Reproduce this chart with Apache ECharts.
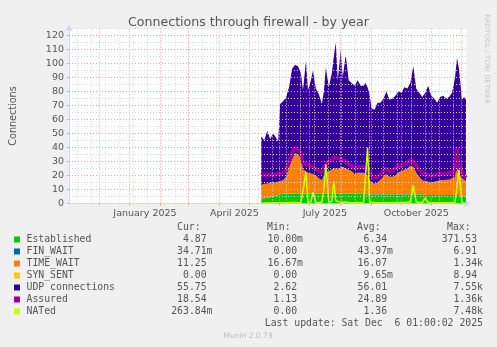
<!DOCTYPE html>
<html>
<head>
<meta charset="utf-8">
<script src="https://cdn.jsdelivr.net/npm/echarts@6/dist/echarts.min.js"></script>
<style>
  html, body { margin: 0; padding: 0; background: #f0f0f0; }
  #chart { width: 497px; height: 347px; }
</style>
</head>
<body>
<div id="chart"></div>
<script>
// Sample dates (UTC days) for the firewall connection counters
const dates = [
  '2025-05-13','2025-05-16','2025-05-19','2025-05-22','2025-05-25','2025-05-28','2025-05-30',
  '2025-06-01','2025-06-04','2025-06-07','2025-06-10','2025-06-13','2025-06-16','2025-06-19',
  '2025-06-22','2025-06-24','2025-06-27','2025-06-29','2025-07-02','2025-07-04','2025-07-07',
  '2025-07-10','2025-07-13','2025-07-15','2025-07-17','2025-07-20','2025-07-23','2025-07-25',
  '2025-07-27','2025-07-29','2025-08-01','2025-08-03','2025-08-06','2025-08-09','2025-08-12',
  '2025-08-15','2025-08-18','2025-08-21','2025-08-24','2025-08-26','2025-08-28','2025-08-30',
  '2025-09-01','2025-09-04','2025-09-07','2025-09-10','2025-09-13','2025-09-16','2025-09-19',
  '2025-09-22','2025-09-25','2025-09-28','2025-10-01','2025-10-04','2025-10-07','2025-10-10',
  '2025-10-13','2025-10-16','2025-10-19','2025-10-22','2025-10-25','2025-10-28','2025-10-31',
  '2025-11-03','2025-11-06','2025-11-09','2025-11-12','2025-11-15','2025-11-18','2025-11-21',
  '2025-11-24','2025-11-26','2025-11-28','2025-12-01','2025-12-03','2025-12-05'
];

const established = [
  3, 3.5, 4, 4.5, 5, 5.5, 6,
  6.5, 7, 7, 7, 7, 7, 7,
  7, 7, 7, 7, 7, 7, 7,
  7, 7, 7, 7, 7, 7, 7,
  7, 7, 7, 7, 7, 7, 7,
  7, 7, 7, 7, 6.5, 6.5, 6.5,
  6.5, 6.5, 6.5, 6.5, 6.5, 6.5, 6.5,
  6.5, 6.5, 6.5, 6.5, 6.5, 6.5, 6.5,
  6.5, 6.5, 6.5, 6.5, 6, 6, 6,
  6, 6, 6, 6, 6, 6, 6,
  6, 6, 6, 5.5, 5, 4.9
];

const finWait = [
  0.04, 0.03, 0.05, 0.04, 0.04, 0.03, 0.05,
  0.04, 0.05, 0.04, 0.04, 0.06, 0.05, 0.04,
  0.04, 0.03, 0.05, 0.04, 0.04, 0.05, 0.04,
  0.03, 0.04, 0.05, 0.04, 0.04, 0.05, 0.04,
  0.06, 0.04, 0.05, 0.04, 0.04, 0.03, 0.04,
  0.05, 0.04, 0.04, 0.03, 0.04, 0.05, 0.04,
  0.04, 0.03, 0.04, 0.04, 0.05, 0.04, 0.04,
  0.03, 0.04, 0.05, 0.04, 0.04, 0.05, 0.04,
  0.05, 0.04, 0.04, 0.03, 0.04, 0.04, 0.05,
  0.04, 0.04, 0.03, 0.04, 0.05, 0.04, 0.04,
  0.05, 0.06, 0.04, 0.04, 0.03, 0.03
];

const timeWait = [
  10, 10.5, 10, 10.5, 10, 9.5, 9.5,
  9.5, 9.5, 12, 19, 24, 29, 28,
  26, 17, 15, 15, 15, 14, 13,
  11, 9.5, 13, 15, 16, 17, 18,
  18, 18, 19, 19, 18, 17, 16,
  14, 15, 15, 15, 14.5, 13.5, 10.5,
  8.5, 7.5, 8.5, 10.5, 12.5, 14.5, 12.5,
  12.5, 13.5, 15.5, 16.5, 17.5, 18.5, 20.5,
  19.5, 15.5, 12.5, 10, 10, 9.5, 9,
  9.5, 10, 10.5, 10.5, 11, 11, 12,
  13, 22, 14, 12.5, 12, 11.2
];

const synSent = [
  0, 0.01, 0, 0.01, 0, 0.01, 0.01,
  0, 0.01, 0.01, 0, 0.02, 0.01, 0,
  0.01, 0.01, 0, 0.01, 0.01, 0, 0.01,
  0.01, 0, 0.01, 0.02, 0.01, 0, 0.01,
  0.01, 0, 0.01, 0.01, 0, 0.01, 0.01,
  0, 0.01, 0.01, 0, 0.01, 0.01, 0,
  0.01, 0.01, 0, 0.01, 0.01, 0, 0.01,
  0.01, 0, 0.01, 0.01, 0, 0.01, 0.01,
  0.02, 0.01, 0, 0.01, 0.01, 0, 0.01,
  0.01, 0, 0.01, 0.01, 0, 0.01, 0.01,
  0, 0.01, 0.01, 0, 0.01, 0
];

const udp = [
  35, 31, 38, 31, 35, 32, 28.5,
  55, 56.5, 57, 57, 65, 63, 63,
  60, 57, 80, 59, 66, 74, 62,
  60, 54.5, 60, 75, 60, 69, 80,
  90, 63, 84, 64, 81, 64, 63,
  63, 66, 62, 62, 65, 63, 61,
  53, 53, 57, 55, 56, 59, 55,
  56, 57, 58, 56, 59, 57, 59,
  72, 60, 60, 59.5, 63, 68.5, 62,
  59.5, 56, 59.5, 60.5, 58, 59, 61,
  71, 76, 76, 56, 59, 58
];

const assured = [
  20, 21, 20, 21, 20, 21, 20,
  21, 22, 24, 30, 36, 40, 38,
  36, 29, 28, 27, 27, 26, 25,
  23, 22, 26, 28, 30, 31, 33,
  34, 32, 32, 32, 30, 28, 27,
  25, 26, 26, 26, 25, 24, 22,
  20, 18, 19, 21, 23, 25, 23,
  23, 25, 27, 27, 28, 29, 31,
  30, 27, 24, 22, 21, 20, 20,
  20, 21, 21, 21, 21, 22, 22,
  24, 40, 26, 22, 20, 18.5
];

const nated = [
  0.2, 0.3, 0.3, 0.4, 0.3, 0.5, 0.4,
  0.5, 0.6, 0.5, 0.6, 0.8, 0.7, 0.6,
  0.8, 1, 22, 0.6, 1, 8, 0.8,
  0.6, 1, 10, 28, 1, 1.5, 16,
  2, 1, 0.8, 0.8, 1, 0.7, 0.6,
  0.6, 0.8, 0.6, 0.7, 1, 40, 1,
  0.6, 0.5, 0.5, 0.6, 0.6, 0.7, 0.6,
  0.6, 0.7, 0.8, 0.7, 0.8, 0.9, 1,
  13, 1, 0.8, 0.7, 4, 0.6, 0.5,
  0.5, 0.6, 0.5, 0.6, 0.6, 0.5, 0.6,
  0.8, 1, 24, 0.6, 0.4, 0.3
];

// Axis labelling
const yTicks = [0, 10, 20, 30, 40, 50, 60, 70, 80, 90, 100, 110, 120];
const xLabelDates = ['2025-01-16', '2025-04-16', '2025-07-16', '2025-10-16'];
const xLabelTexts = ['January 2025', 'April 2025', 'July 2025', 'October 2025'];

// Legend table
const seriesNames = ['Established', 'FIN_WAIT', 'TIME_WAIT', 'SYN_SENT', 'UDP connections', 'Assured', 'NATed'];
const seriesColors = ['#00CC00', '#0066B3', '#FF8000', '#FFCC00', '#330099', '#990099', '#CCFF00'];
const curValues = ['4.87 ', '34.71m', '11.25 ', '0.00 ', '55.75 ', '18.54 ', '263.84m'];
const minValues = ['10.00m', '0.00 ', '16.67m', '0.00 ', '2.62 ', '1.13 ', '0.00 '];
const avgValues = ['6.34 ', '43.97m', '16.07 ', '9.65m', '56.01 ', '24.89 ', '1.36 '];
const maxValues = ['371.53 ', '6.91 ', '1.34k', '8.94 ', '7.55k', '1.36k', '7.48k'];
const lastUpdate = 'Last update: Sat Dec  6 01:00:02 2025';

const DAY = 86400000;
const toTime = d => Date.parse(d + 'T12:00:00Z');
const pairs = arr => arr.map((v, i) => [toTime(dates[i]), v]);

const xMin = Date.UTC(2024, 10, 1, 1);
const xMax = Date.UTC(2025, 11, 6, 1);
const xLabelTimes = xLabelDates.map(toTime);

// grid lines: monthly (major) and fortnightly (minor)
const monthLines = [];
for (let m = 11; ; m++) {
  const t = Date.UTC(2024, m, 1);
  if (t > xMax) break;
  monthLines.push(t);
}
const minorLines = [];
for (let t = Date.UTC(2024, 10, 9, 12); t < xMax; t += 14 * DAY) minorLines.push(t);

const MAJOR = '#f2a0a0';
const MINOR = '#d8d8d8';
const gridMarks = [];
minorLines.forEach(t => gridMarks.push({ xAxis: t, lineStyle: { color: MINOR } }));
for (let v = 5; v <= 125; v += 10) gridMarks.push({ yAxis: v, lineStyle: { color: MINOR } });
monthLines.forEach(t => gridMarks.push({ xAxis: t, lineStyle: { color: MAJOR } }));
yTicks.filter(v => v > 0).forEach(v => gridMarks.push({ yAxis: v, lineStyle: { color: MAJOR } }));

const areaSeries = (name, values, color) => ({
  name, type: 'line', stack: 'conn', data: pairs(values), xAxisIndex: 0,
  symbol: 'none', showSymbol: false, silent: true,
  lineStyle: { width: 0 }, itemStyle: { color },
  areaStyle: { color, opacity: 1 }, z: 2
});

const FONT = 'DejaVu Sans';
const MONO = 'DejaVu Sans Mono';
const TXT = '#555';

// legend table drawn as text rows
const legendGraphics = [];
const rowY0 = 239.5, rowStep = 12, monoSize = 9.8;
[['Cur:', 177], ['Min:', 267], ['Avg:', 357], ['Max:', 447]].forEach(([h, x]) => {
  legendGraphics.push({ type: 'text', x, y: rowY0 - rowStep, style: { text: h, font: `${monoSize}px "${MONO}"`, fill: TXT, textVerticalAlign: 'middle' } });
});
seriesNames.forEach((name, i) => {
  const y = rowY0 + i * rowStep;
  legendGraphics.push({ type: 'rect', shape: { x: 14, y: y - 3, width: 6, height: 6 }, style: { fill: seriesColors[i] } });
  legendGraphics.push({ type: 'text', x: 26.5, y, style: { text: name, font: `${monoSize}px "${MONO}"`, fill: TXT, textVerticalAlign: 'middle' } });
  [[curValues, 212.5], [minValues, 303], [avgValues, 393], [maxValues, 483]].forEach(([col, x]) => {
    legendGraphics.push({ type: 'text', x, y, style: { text: col[i], font: `${monoSize}px "${MONO}"`, fill: TXT, textAlign: 'right', textVerticalAlign: 'middle' } });
  });
});
legendGraphics.push({ type: 'text', x: 483, y: rowY0 + 7 * rowStep, style: { text: lastUpdate, font: `${monoSize}px "${MONO}"`, fill: TXT, textAlign: 'right', textVerticalAlign: 'middle' } });
legendGraphics.push({ type: 'text', x: 248, y: 336, style: { text: 'Munin 2.0.73', font: `7.5px "${FONT}"`, fill: '#bbb', textAlign: 'center', textVerticalAlign: 'middle' } });
legendGraphics.push({ type: 'text', x: 487, y: 14, rotation: -Math.PI / 2, style: { text: 'RRDTOOL / TOBI OETIKER', font: `7px "${FONT}"`, fill: '#c8c8c8', textAlign: 'left', textVerticalAlign: 'middle' } });

const chart = echarts.init(document.getElementById('chart'), null, { renderer: 'canvas' });
chart.setOption({
  animation: false,
  useUTC: true,
  backgroundColor: '#f0f0f0',
  textStyle: { fontFamily: FONT },
  title: {
    text: 'Connections through firewall - by year',
    left: 'center', top: 11,
    textStyle: { fontFamily: FONT, fontSize: 12.6, fontWeight: 'normal', color: TXT }
  },
  grid: {
    left: 66.5, right: 30.5, top: 28.5, bottom: 143.5,
    show: true, backgroundColor: '#ffffff', borderWidth: 0
  },
  xAxis: [
    {
      // time scale carrying the data series
      type: 'time', min: xMin, max: xMax, position: 'bottom', show: false
    },
    {
      // labelled scale over the same span
      type: 'value', min: xMin, max: xMax, position: 'bottom',
      splitLine: { show: false },
      axisLine: { lineStyle: { color: '#CFD6F8', width: 1 }, symbol: ['none', 'arrow'], symbolSize: [6, 7], symbolOffset: [0, 4] },
      axisTick: { show: true, customValues: monthLines, length: 2, lineStyle: { color: MAJOR } },
      axisLabel: {
        customValues: xLabelTimes,
        formatter: v => {
          const i = xLabelTimes.indexOf(v);
          return i >= 0 ? xLabelTexts[i] : '';
        },
        color: TXT, fontFamily: FONT, fontSize: 9.5, margin: 5
      }
    }
  ],
  yAxis: {
    type: 'value', min: 0, max: 125, interval: 5,
    name: 'Connections', nameLocation: 'middle', nameGap: 51,
    nameTextStyle: { color: TXT, fontFamily: FONT, fontSize: 9.6 },
    splitLine: { show: false },
    axisLine: { show: true, lineStyle: { color: '#CFD6F8', width: 1 }, symbol: ['none', 'arrow'], symbolSize: [6, 7], symbolOffset: [0, 4] },
    axisTick: { show: true, customValues: yTicks, length: 2, lineStyle: { color: MAJOR } },
    axisLabel: {
      customValues: yTicks,
      formatter: v => (v % 10 === 0 && v <= 120 ? String(v) : ''),
      color: TXT, fontFamily: FONT, fontSize: 9.5, margin: 5
    }
  },
  series: [
    areaSeries('Established', established, seriesColors[0]),
    areaSeries('FIN_WAIT', finWait, seriesColors[1]),
    areaSeries('TIME_WAIT', timeWait, seriesColors[2]),
    areaSeries('SYN_SENT', synSent, seriesColors[3]),
    areaSeries('UDP connections', udp, seriesColors[4]),
    {
      name: 'Assured', type: 'line', data: pairs(assured), xAxisIndex: 0, symbol: 'none', silent: true,
      lineStyle: { color: seriesColors[5], width: 4 }, itemStyle: { color: seriesColors[5] }, z: 3
    },
    {
      name: 'NATed', type: 'line', data: pairs(nated), xAxisIndex: 0, symbol: 'none', silent: true,
      lineStyle: { color: seriesColors[6], width: 1.5 }, itemStyle: { color: seriesColors[6] }, z: 4
    },
    {
      name: 'grid', type: 'line', data: [], xAxisIndex: 0, silent: true, z: 6,
      markLine: {
        silent: true, symbol: ['none', 'none'], animation: false,
        label: { show: false },
        lineStyle: { type: [1, 2], width: 1 },
        emphasis: { disabled: true },
        data: gridMarks
      }
    }
  ],
  graphic: legendGraphics
});
</script>
</body>
</html>
